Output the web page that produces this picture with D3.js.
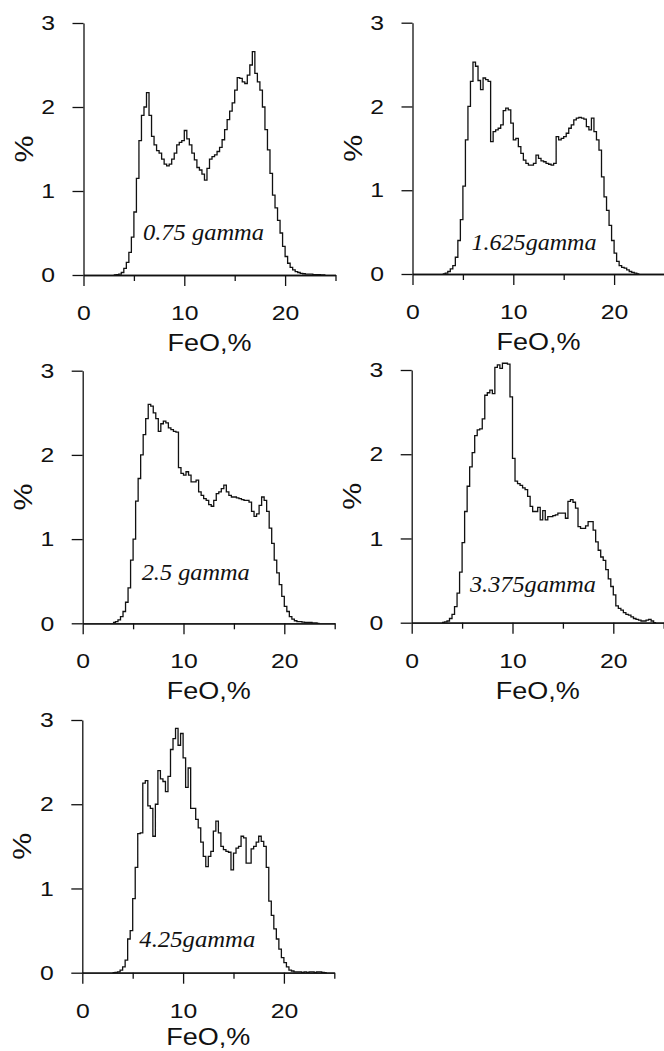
<!DOCTYPE html>
<html>
<head>
<meta charset="utf-8">
<script src="https://cdn.jsdelivr.net/npm/d3@7"></script>
<style>
    body { margin: 0; background: #fff; }
    svg { display: block; }
</style>
</head>
<body>
<svg id="chart" width="664" height="1051"></svg>
<script>
// histogram bins: first bin starts at FeO = 3 %, each bin 0.25 % wide
var binStart = 3, binWidth = 0.25

// one row per 1 % of FeO (4 bins)
var gamma075 = [
    0, 0.005, 0.01, 0.03,   0.08, 0.15, 0.27, 0.45,   0.75, 1.15, 1.6, 1.9,
    2.0, 2.17, 1.9, 1.65,   1.55, 1.48, 1.45, 1.38,   1.32, 1.3, 1.32, 1.38,
    1.45, 1.55, 1.58, 1.6,  1.72, 1.62, 1.55, 1.45,   1.37, 1.28, 1.25, 1.2,
    1.13, 1.27, 1.38, 1.41, 1.43, 1.47, 1.52, 1.61,   1.73, 1.85, 1.95, 2.05,
    2.2, 2.35, 2.34, 2.3,   2.28, 2.38, 2.5, 2.66,    2.4, 2.3, 2.2, 2.0,
    1.73, 1.49, 1.21, 0.95, 0.8, 0.65, 0.5, 0.34,     0.22, 0.14, 0.09, 0.06,
    0.04, 0.03, 0.02, 0.015, 0.01, 0.01, 0.01, 0.005, 0.005, 0.003, 0.002, 0]
var gamma1625 = [
    0, 0.01, 0.03, 0.06,    0.1, 0.2, 0.4, 0.65,      1.05, 1.6, 2.0, 2.3,
    2.53, 2.48, 2.31, 2.2,  2.34, 2.32, 2.3, 1.58,    1.7, 1.72, 1.74, 1.78,
    1.95, 1.98, 1.96, 1.8,  1.6, 1.62, 1.52, 1.44,    1.36, 1.32, 1.3, 1.3,
    1.32, 1.42, 1.38, 1.35, 1.34, 1.32, 1.31, 1.3,    1.32, 1.64, 1.6, 1.62,
    1.64, 1.68, 1.74, 1.78, 1.84, 1.86, 1.87, 1.86,   1.85, 1.76, 1.72, 1.86,
    1.7, 1.6, 1.48, 1.16,   0.92, 0.76, 0.58, 0.4,    0.25, 0.15, 0.1, 0.08,
    0.07, 0.05, 0.03, 0.02, 0.01, 0]
var gamma25 = [
    0.01, 0.02, 0.04, 0.08, 0.14, 0.25, 0.42, 0.75,   1.0, 1.45, 1.72, 2.0,
    2.24, 2.43, 2.6, 2.58,  2.5, 2.43, 2.28, 2.37,    2.4, 2.38, 2.32, 2.3,
    2.28, 2.27, 1.85, 1.78, 1.76, 1.8, 1.76, 1.68,    1.68, 1.7, 1.56, 1.52,
    1.48, 1.46, 1.41, 1.39, 1.46, 1.54, 1.56, 1.6,    1.64, 1.56, 1.52, 1.5,
    1.5, 1.49, 1.48, 1.47,  1.46, 1.46, 1.44, 1.33,   1.27, 1.3, 1.4, 1.5,
    1.46, 1.33, 1.13, 0.95, 0.75, 0.6, 0.46, 0.32,    0.2, 0.14, 0.08, 0.05,
    0.03, 0.02, 0.02, 0.015, 0.01, 0.01, 0.01, 0.005, 0.005, 0]
var gamma3375 = [
    0.005, 0.01, 0.02, 0.05, 0.1, 0.19, 0.35, 0.6,    0.95, 1.32, 1.62, 1.85,
    2.02, 2.22, 2.29, 2.3,  2.42, 2.7, 2.73, 2.76,    2.72, 3.03, 3.06, 3.02,
    3.08, 3.08, 3.07, 2.68, 1.95, 1.68, 1.65, 1.63,   1.6, 1.58, 1.5, 1.38,
    1.32, 1.32, 1.37, 1.22, 1.33, 1.22, 1.26, 1.26,   1.27, 1.28, 1.3, 1.3,
    1.3, 1.24, 1.44, 1.46,  1.43, 1.36, 1.14, 1.12,   1.12, 1.15, 1.2, 1.2,
    1.1, 0.96, 0.86, 0.78,  0.74, 0.63, 0.52, 0.43,   0.33, 0.2, 0.17, 0.15,
    0.12, 0.1, 0.09, 0.07,  0.05, 0.04, 0.03, 0.02,   0.02, 0.03, 0.04, 0.02, 0]
var gamma425 = [
    0, 0.005, 0.01, 0.03,   0.07, 0.15, 0.4, 0.5,     0.88, 1.25, 1.65, 1.66,
    2.25, 2.28, 1.98, 1.95, 1.62, 2.0, 2.4, 2.3,      2.27, 2.15, 2.33, 2.65,
    2.78, 2.9, 2.7, 2.84,   2.55, 2.2, 2.43, 1.95,    1.95, 1.82, 1.72, 1.55,
    1.38, 1.26, 1.38, 1.44, 1.68, 1.8, 1.66, 1.5,     1.46, 1.44, 1.43, 1.22,
    1.42, 1.48, 1.5, 1.62,  1.6, 1.3, 1.3, 1.47,      1.5, 1.55, 1.62, 1.56,
    1.5, 1.25, 0.85, 0.68,  0.52, 0.4, 0.28, 0.18,    0.12, 0.07, 0.03, 0.02,
    0.01, 0.01, 0.01, 0.005, 0.01, 0.005, 0.01, 0.01, 0.005, 0.01, 0.01, 0.005, 0]

var series = [gamma075, gamma1625, gamma25, gamma3375, gamma425]
var gammaLabels = ["0.75 gamma", "1.625gamma", "2.5 gamma", "3.375gamma", "4.25gamma"]
var xMajorTicks = [0, 10, 20]
var xMinorTicks = [5, 15, 25]
var yTicks = [0, 1, 2, 3]
var xLabel = "FeO,%", yLabel = "%"

var panelLayout = [
    { left: 83.5, top: 23, bottom: 275, labelDx: 59.5, labelDy: -35, labelWidth: 121 },
    { left: 412.5, top: 22.7, bottom: 274, labelDx: 59, labelDy: -24, labelWidth: 125 },
    { left: 82.7, top: 370.7, bottom: 623.3, labelDx: 59, labelDy: -43, labelWidth: 108 },
    { left: 411.7, top: 370, bottom: 622.7, labelDx: 58.3, labelDy: -31, labelWidth: 126 },
    { left: 82.3, top: 720, bottom: 972.7, labelDx: 57, labelDy: -26, labelWidth: 116 }
]
var plotWidth = 252
var pageHeight = 1051
var sansFont = "'Liberation Sans', Arial, sans-serif"
var serifFont = "'Liberation Serif', 'Times New Roman', serif"
var stretch = 1.18

var svg = d3.select("#chart")

svg.append("rect")
    .attr("width", 664)
    .attr("height", pageHeight)
    .attr("fill", "white")

series.forEach(function (values, i) {
    drawPanel(values, gammaLabels[i], panelLayout[i])
})

function drawPanel(values, label, lay) {

    var g = svg.append("g")
        .attr("transform", "translate(" + lay.left + ",0)")

    var x = d3.scaleLinear()
        .domain([0, 25])
        .range([0, plotWidth])

    var y = d3.scaleLinear()
        .domain([0, 3])
        .range([lay.bottom, lay.top])

    // histogram outline
    var pts = values.map((v, j) => [binStart + j * binWidth, v])
    pts.push([binStart + values.length * binWidth, values[values.length - 1]])

    var line = d3.line()
        .x(d => x(d[0]))
        .y(d => y(d[1]))
        .curve(d3.curveStepAfter)

    g.append("path")
        .datum(pts)
        .attr("d", line)
        .attr("fill", "none")
        .attr("stroke", "#111")
        .attr("stroke-width", 1.3)

    // y axis
    var yAxis = g.append("g")
        .call(d3.axisLeft(y).tickValues(yTicks).tickFormat(d3.format("d"))
            .tickSize(11).tickSizeOuter(0).tickPadding(13))

    // x axis, minor ticks first then major ticks with labels
    g.append("g")
        .attr("transform", "translate(0," + lay.bottom + ")")
        .call(d3.axisBottom(x).tickValues(xMinorTicks).tickSize(6).tickSizeOuter(0).tickFormat(""))

    var xAxis = g.append("g")
        .attr("transform", "translate(0," + lay.bottom + ")")
        .call(d3.axisBottom(x).tickValues(xMajorTicks).tickFormat(d3.format("d"))
            .tickSize(11).tickSizeOuter(0).tickPadding(19))

    g.selectAll(".domain, .tick line")
        .attr("stroke", "#111")
        .attr("stroke-width", 1.3)

    g.selectAll(".tick text")
        .attr("font-family", sansFont)
        .attr("font-size", 21)
        .attr("fill", "#111")

    yAxis.selectAll(".tick text")
        .attr("x", -24.2)
        .attr("transform", "scale(" + stretch + ",1)")

    xAxis.selectAll(".tick text")
        .attr("transform", "scale(" + stretch + ",1)")

    // axis titles
    g.append("text")
        .attr("x", 126)
        .attr("y", Math.min(lay.bottom + 76, pageHeight - 6))
        .attr("text-anchor", "middle")
        .attr("font-family", sansFont)
        .attr("font-size", 24)
        .attr("textLength", 84)
        .attr("lengthAdjust", "spacingAndGlyphs")
        .attr("fill", "#111")
        .text(xLabel)

    g.append("text")
        .attr("transform", "translate(-51," + (lay.top + lay.bottom) / 2 + ") rotate(-90)")
        .attr("text-anchor", "middle")
        .attr("font-family", sansFont)
        .attr("font-size", 26)
        .attr("textLength", 27)
        .attr("lengthAdjust", "spacingAndGlyphs")
        .attr("fill", "#111")
        .text(yLabel)

    // series name inside the plot
    g.append("text")
        .attr("x", lay.labelDx)
        .attr("y", lay.bottom + lay.labelDy)
        .attr("font-family", serifFont)
        .attr("font-style", "italic")
        .attr("font-size", 24)
        .attr("textLength", lay.labelWidth)
        .attr("lengthAdjust", "spacingAndGlyphs")
        .attr("fill", "#111")
        .text(label)
}
</script>
</body>
</html>
